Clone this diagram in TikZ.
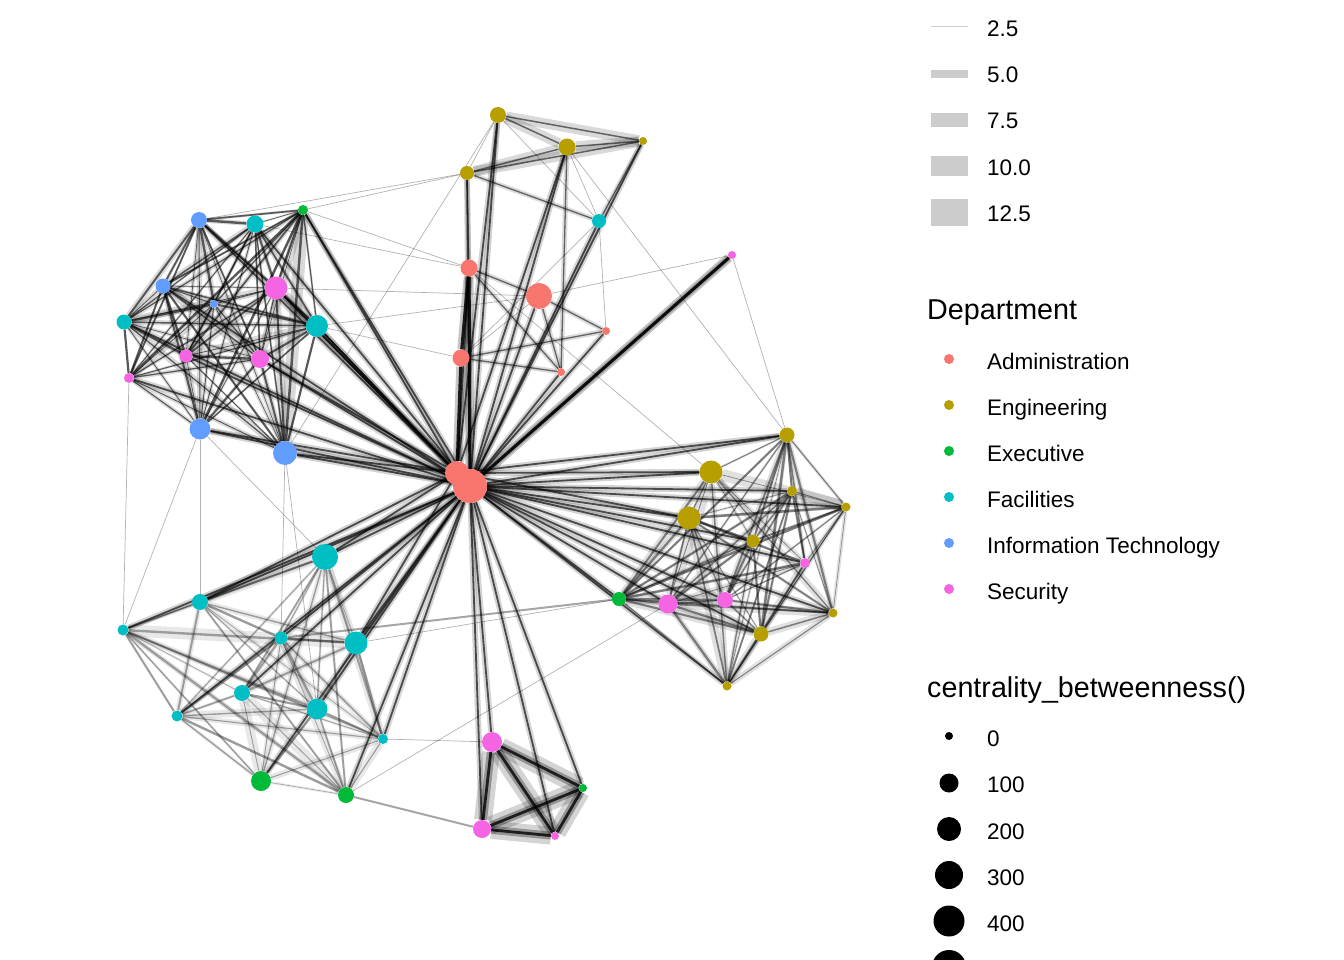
\documentclass[tikz,border=0pt]{standalone}
\usepackage{fontspec}
\setmainfont{Liberation Sans}
\pgfdeclarelayer{edges}
\pgfsetlayers{edges,main}
\definecolor{adm}{HTML}{F8766D}
\definecolor{eng}{HTML}{B79F00}
\definecolor{exe}{HTML}{00BA38}
\definecolor{fac}{HTML}{00BFC4}
\definecolor{itc}{HTML}{619CFF}
\definecolor{sec}{HTML}{F564E3}
\definecolor{keygray}{HTML}{CCCCCC}
\tikzset{
  vert/.style={circle,inner sep=0pt,draw=none},
  hb/.style={preaction={draw=black,draw opacity=0.17,line width=6pt},draw=black,draw opacity=0.65,line width=1.8pt},
  hbk/.style={preaction={draw=black,draw opacity=0.22,line width=9pt},draw=black,draw opacity=0.85,line width=3.2pt},
  md/.style={preaction={draw=black,draw opacity=0.14,line width=5pt},draw=black,draw opacity=0.55,line width=1.3pt},
  lt/.style={draw=black,draw opacity=0.3,line width=0.7pt},
  lw/.style={preaction={draw=black,draw opacity=0.15,line width=10pt},draw=black,draw opacity=0.55,line width=1.5pt},
  lab/.style={anchor=base west,inner sep=0pt,font=\fontsize{22.5}{27}\selectfont},
  ttl/.style={anchor=base west,inner sep=0pt,font=\fontsize{28.7}{34}\selectfont},
}
\newcommand\vtx[5]{\node[vert,fill=#2,minimum size=#5pt] (#1) at (#3,#4) {};}
\newcommand\clique[5]{%
  \pgfmathtruncatemacro\cqlast{#2-1}%
  \foreach \i in {1,...,\cqlast}{%
    \pgfmathtruncatemacro\cqk{\i+1}%
    \foreach \j in {\cqk,...,#2}{%
      \pgfmathsetmacro\cqp{rnd}%
      \pgfmathsetmacro\cqw{0.5+2.0*rnd}%
      \pgfmathsetmacro\cqh{2+11*rnd*rnd}%
      \ifdim\cqp pt<#3pt
        \draw[line width=\cqh pt,draw=black,draw opacity=#5] (#1\i) -- (#1\j);
        \draw[line width=\cqw pt,draw=black,draw opacity=#4] (#1\i) -- (#1\j);
      \fi
    }%
  }%
}
\begin{document}
\begin{tikzpicture}[x=1pt,y=-1pt]
\useasboundingbox (0,0) rectangle (1344,960);
% ---------- vertices ----------
\vtx{h1}{adm}{457}{473}{24}
\vtx{h2}{adm}{470}{486}{34}
\vtx{a1}{itc}{199}{220}{16}
\vtx{a2}{fac}{255}{224}{17}
\vtx{a3}{exe}{303}{210}{10}
\vtx{a4}{itc}{163}{286}{15}
\vtx{a5}{sec}{276}{288}{23}
\vtx{a6}{itc}{214}{304}{8}
\vtx{a7}{fac}{124}{322}{15}
\vtx{a8}{fac}{317}{326}{22}
\vtx{a9}{sec}{186}{356}{13}
\vtx{a10}{sec}{260}{359}{18}
\vtx{a11}{sec}{129}{378}{10}
\vtx{a12}{itc}{200}{429}{21}
\vtx{a13}{itc}{285}{453}{24}
\vtx{b1}{eng}{498}{115}{16}
\vtx{b2}{eng}{567}{147}{17}
\vtx{b3}{eng}{643}{141}{8}
\vtx{b4}{eng}{467}{173}{14}
\vtx{b5}{fac}{599}{221}{14}
\vtx{b6}{sec}{732}{255}{8}
\vtx{c1}{adm}{469}{268}{17}
\vtx{c2}{adm}{539}{296}{26}
\vtx{c3}{adm}{606}{331}{8}
\vtx{c4}{adm}{461}{358}{17}
\vtx{c5}{adm}{561}{372}{8}
\vtx{d1}{eng}{787}{435}{15}
\vtx{d2}{eng}{711}{472}{23}
\vtx{d3}{eng}{792}{491}{10}
\vtx{d4}{eng}{846}{507}{9}
\vtx{d5}{eng}{689}{518}{23}
\vtx{d6}{eng}{753}{541}{13}
\vtx{d7}{sec}{805}{563}{10}
\vtx{d8}{exe}{619}{599}{14}
\vtx{d9}{sec}{668}{604}{19}
\vtx{d10}{sec}{725}{600}{16}
\vtx{d11}{eng}{833}{613}{9}
\vtx{d12}{eng}{761}{634}{15}
\vtx{d13}{eng}{727}{686}{9}
\vtx{e1}{fac}{325}{557}{26}
\vtx{e2}{fac}{200}{602}{16}
\vtx{e3}{fac}{123}{630}{11}
\vtx{e4}{fac}{281}{638}{13}
\vtx{e5}{fac}{356}{643}{23}
\vtx{e6}{fac}{242}{693}{16}
\vtx{e7}{fac}{317}{709}{21}
\vtx{e8}{fac}{177}{716}{11}
\vtx{e9}{fac}{383}{739}{10}
\vtx{e10}{exe}{261}{781}{20}
\vtx{e11}{exe}{346}{795}{16}
\vtx{f1}{sec}{492}{742}{20}
\vtx{f2}{exe}{583}{788}{8}
\vtx{f3}{sec}{482}{829}{18}
\vtx{f4}{sec}{555}{836}{8}
% ---------- edges ----------
\begin{pgfonlayer}{edges}
\pgfmathsetseed{11}
\clique{a}{13}{0.97}{0.6}{0.15}
\clique{d}{13}{0.9}{0.45}{0.12}
\clique{e}{11}{0.9}{0.33}{0.09}
% bottom group
\foreach \u/\v in {f1/f2,f1/f3,f1/f4,f2/f3,f2/f4,f3/f4}
  \draw[preaction={draw=black,draw opacity=0.17,line width=18pt},preaction={draw=black,draw opacity=0.3,line width=8pt},draw=black,draw opacity=0.8,line width=2.8pt] (\u) -- (\v);
% top group
\foreach \u/\v in {b1/b2,b1/b3,b2/b3,b4/b2,b4/b3}
  \draw[lw] (\u) -- (\v);
\foreach \u/\v in {b4/b5,b3/b5,b4/c1,c1/c2,c2/c3,c4/c3,c4/c5,c1/c5,c2/c5,b2/c5}
  \draw[md] (\u) -- (\v);
\draw[hbk] (c1) -- (c4);
\foreach \u/\v in {b1/b4,b1/b5,b2/b5,c2/c4,b5/c4}
  \draw[lt] (\u) -- (\v);
% hub edges
\foreach \n in {a1,a2,a3,a4,a5,a7,a8,a9,a10,a11,a12,a13,b1,b2,b3,b4,b5,b6,c2,c3,c5,d1,d2,d3,d4,d5,d6,d7,d8,d9,d10,d11,d12,d13,e1,e2,e3,e4,e5,e6,e7,e8,e9,e10,e11,f1,f2,f3,f4}
  \draw[hb] (h2) -- (\n);
\foreach \n in {a3,a5,a8,a13,a12,a10,c1,d2,d5,d1,e2,e1,e5,b1,b2}
  \draw[hb] (h1) -- (\n);
\draw[hbk] (h1) -- (c4);
\draw[hbk] (h2) -- (c1);
\draw[hbk] (h2) -- (b6);
% long light edges
\foreach \u/\v in {a3/b4,a3/c1,a2/c1,a5/c2,a8/c4,a1/b4,b1/a13,b2/d1,b6/d1,c2/b6,a11/e3,a12/e2,a12/e3,a13/e4,a13/e7,e11/d9,e5/d8,c1/d2,a8/c2,b5/c3,e9/f1,a12/e1}
  \draw[lt] (\u) -- (\v);
\draw[draw=black,draw opacity=0.35,line width=2pt] (e11) -- (f3);
\draw[draw=black,draw opacity=0.35,line width=2pt] (e4) -- (d8);
\end{pgfonlayer}
% ---------- legend: edge width ----------
\draw[keygray,line width=1pt] (931,27) -- (968,27) coordinate (k1);
\fill[keygray] (931,70) rectangle (968,78) coordinate (k2);
\fill[keygray] (931,113) rectangle (968,127) coordinate (k3);
\fill[keygray] (931,156) rectangle (968,176) coordinate (k4);
\fill[keygray] (931,199) rectangle (968,226) coordinate (k5);
\node[lab] (w1) at (987,37) {2.5};
\node[lab] (w2) at (987,83) {5.0};
\node[lab] (w3) at (987,129) {7.5};
\node[lab] (w4) at (987,176) {10.0};
\node[lab] (w5) at (987,222) {12.5};
% ---------- legend: department ----------
\node[ttl] (dt) at (927,319) {Department};
\node[vert,fill=adm,minimum size=10pt] (k6) at (949,359) {};
\node[vert,fill=eng,minimum size=10pt] (k7) at (949,405) {};
\node[vert,fill=exe,minimum size=10pt] (k8) at (949,451) {};
\node[vert,fill=fac,minimum size=10pt] (k9) at (949,497) {};
\node[vert,fill=itc,minimum size=10pt] (k10) at (949,543) {};
\node[vert,fill=sec,minimum size=10pt] (k11) at (949,589) {};
\node[lab] (l1) at (987,369) {Administration};
\node[lab] (l2) at (987,415) {Engineering};
\node[lab] (l3) at (987,461) {Executive};
\node[lab] (l4) at (987,507) {Facilities};
\node[lab] (l5) at (987,553) {Information Technology};
\node[lab] (l6) at (987,599) {Security};
% ---------- legend: size ----------
\node[ttl] (ct) at (927,697) {centrality\_betweenness()};
\node[vert,fill=black,minimum size=8pt] (s0) at (949,736) {};
\node[vert,fill=black,minimum size=19pt] (s1) at (949,783) {};
\node[vert,fill=black,minimum size=24pt] (s2) at (949,829) {};
\node[vert,fill=black,minimum size=28pt] (s3) at (949,875) {};
\node[vert,fill=black,minimum size=31pt] (s4) at (949,921) {};
\begin{scope}
\clip (0,0) rectangle (1344,960);
\node[vert,fill=black,minimum size=34pt] (s5) at (949,967) {};
\end{scope}
\node[lab] (z0) at (987,746) {0};
\node[lab] (z1) at (987,792) {100};
\node[lab] (z2) at (987,839) {200};
\node[lab] (z3) at (987,885) {300};
\node[lab] (z4) at (987,931) {400};
\end{tikzpicture}
\end{document}
